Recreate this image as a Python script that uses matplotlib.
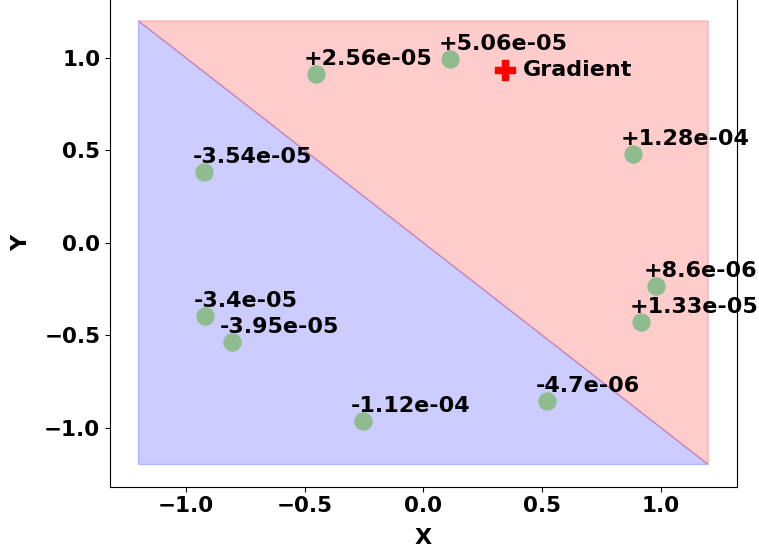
import matplotlib
matplotlib.use("Agg")
import matplotlib.pyplot as plt

# -----------------------------
# Data
# -----------------------------
point_x = [-0.453, 0.113, 0.882, -0.922, 0.979, 0.919, -0.918, -0.808, -0.256, 0.523]
point_y = [0.913, 0.994, 0.480, 0.383, -0.234, -0.429, -0.396, -0.537, -0.965, -0.856]
point_labels = ["+2.56e-05", "+5.06e-05", "+1.28e-04", "-3.54e-05", "+8.6e-06",
                "+1.33e-05", "-3.4e-05", "-3.95e-05", "-1.12e-04", "-4.7e-06"]

# decision regions (triangles split by the diagonal)
blue_x = [-1.2, 1.2, -1.2]
blue_y = [1.2, -1.2, -1.2]
red_x = [-1.2, 1.2, 1.2]
red_y = [1.2, -1.2, 1.2]

grad_x = [0.344]
grad_y = [0.935]

# -----------------------------
# Plot
# -----------------------------
plt.rcParams["font.weight"] = "bold"
plt.rcParams["axes.labelweight"] = "bold"

fig = plt.figure(figsize=(7.59, 5.52), dpi=100)
ax = fig.add_axes([0.1449, 0.1183, 0.8257, 0.884])

ax.fill(blue_x, blue_y, color="blue", alpha=0.2)
ax.fill(red_x, red_y, color="red", alpha=0.2)

ax.scatter(point_x, point_y, s=150, color="darkseagreen", zorder=3)
for x, y, lab in zip(point_x, point_y, point_labels):
    ax.text(x - 0.05, y + 0.05, lab, fontsize=16, fontweight="bold", zorder=4)

ax.scatter(grad_x, grad_y, marker="P", s=200, color="red", zorder=3)
ax.text(grad_x[0] + 0.075, grad_y[0], "Gradient", fontsize=16, fontweight="bold",
        va="center")

ax.set_xlim(-1.32, 1.32)
ax.set_ylim(-1.32, 1.32)
ax.set_xticks([-1.0, -0.5, 0.0, 0.5, 1.0])
ax.set_yticks([-1.0, -0.5, 0.0, 0.5, 1.0])
ax.tick_params(labelsize=15.5)
ax.set_xlabel("X", fontsize=16, labelpad=8)
ax.set_ylabel("Y", fontsize=16, labelpad=9)

fig.savefig("out.png", dpi=100)
plt.close()
